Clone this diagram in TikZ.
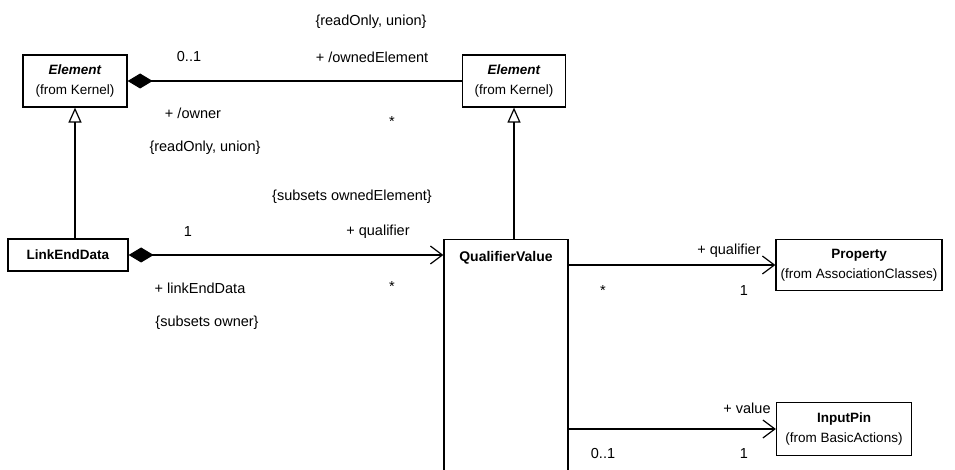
\documentclass[tikz,border=0pt]{standalone}
\usepackage{fontspec}
\setmainfont{Liberation Sans}
\usetikzlibrary{arrows.meta}

\tikzset{
  classbox/.style = {draw, line width=1.2pt, align=center, inner sep=0pt,
                     font=\fontsize{13.5}{20}\selectfont},
  endlabel/.style = {inner sep=0pt, font=\fontsize{14.5}{16}\selectfont},
  assoc/.style = {line width=1.2pt},
  composite/.style = {{Diamond[length=25pt,width=15pt]}-},
  navigable/.style = {-{Straight Barb[length=12pt,width=18pt]}},
  compnav/.style = {{Diamond[length=25pt,width=15pt]}-{Straight Barb[length=12pt,width=18pt]}},
  generalize/.style = {-{Triangle[open,length=15pt,width=13pt]}},
}

\begin{document}
\begin{tikzpicture}[x=1pt, y=-1pt]
\clip (0,0) rectangle (955,470);

% classes
\node[classbox, minimum width=104pt, minimum height=52pt] (elemleft) at (75,81)
  {\textbf{\textit{Element}}\\(from Kernel)};
\node[classbox, minimum width=103pt, minimum height=52pt] (elemright) at (514,81)
  {\textbf{\textit{Element}}\\(from Kernel)};
\node[classbox, minimum width=120pt, minimum height=32pt] (linkend) at (68,255)
  {\textbf{LinkEndData}};
\node[classbox, minimum width=124pt, minimum height=260pt, anchor=north] (qualval) at (506,239) {};
\node[endlabel, font=\fontsize{14}{16}\selectfont\bfseries] (qualvalname) at (506,258) {QualifierValue};
\node[classbox, minimum width=166pt, minimum height=51pt] (property) at (859,265)
  {\textbf{Property}\\(from AssociationClasses)};
\node[classbox, minimum width=135pt, minimum height=53pt] (inputpin) at (844,429)
  {\textbf{InputPin}\\(from BasicActions)};

% connectors
\draw[assoc, composite] (elemleft.east) -- (elemright.west);
\draw[assoc, generalize] (elemleft.south |- linkend.north) -- (elemleft.south);
\draw[assoc, generalize] (elemright.south |- qualval.north) -- (elemright.south);
\draw[assoc, compnav] (linkend.east) -- (linkend.east -| qualval.west);
\draw[assoc, navigable] (qualval.east |- property.west) -- (property.west);
\draw[assoc, navigable] (qualval.east |- inputpin.west) -- (inputpin.west);

% association end labels
\node[endlabel] (ownedprops) at (371,22) {\{readOnly, union\}};
\node[endlabel] (ownermult) at (189,57) {0..1};
\node[endlabel] (ownedname) at (372,57) {+ /ownedElement};
\node[endlabel] (ownername) at (193,113) {+ /owner};
\node[endlabel] (ownedmult) at (392,122) {*};
\node[endlabel] (ownerprops) at (205,148) {\{readOnly, union\}};
\node[endlabel] (subowned) at (352,197) {\{subsets ownedElement\}};
\node[endlabel] (ledmult) at (188,232) {1};
\node[endlabel] (qualname) at (378,232) {+ qualifier};
\node[endlabel] (ledname) at (200,288) {+ linkEndData};
\node[endlabel] (qualmult) at (392,287) {*};
\node[endlabel] (subowner) at (207,323) {\{subsets owner\}};
\node[endlabel] (propname) at (729,251) {+ qualifier};
\node[endlabel] (qvmult) at (603,291) {*};
\node[endlabel] (propmult) at (744,291) {1};
\node[endlabel] (valname) at (747,408) {+ value};
\node[endlabel] (valmult) at (603,454) {0..1};
\node[endlabel] (pinmult) at (744,454) {1};
\end{tikzpicture}
\end{document}
